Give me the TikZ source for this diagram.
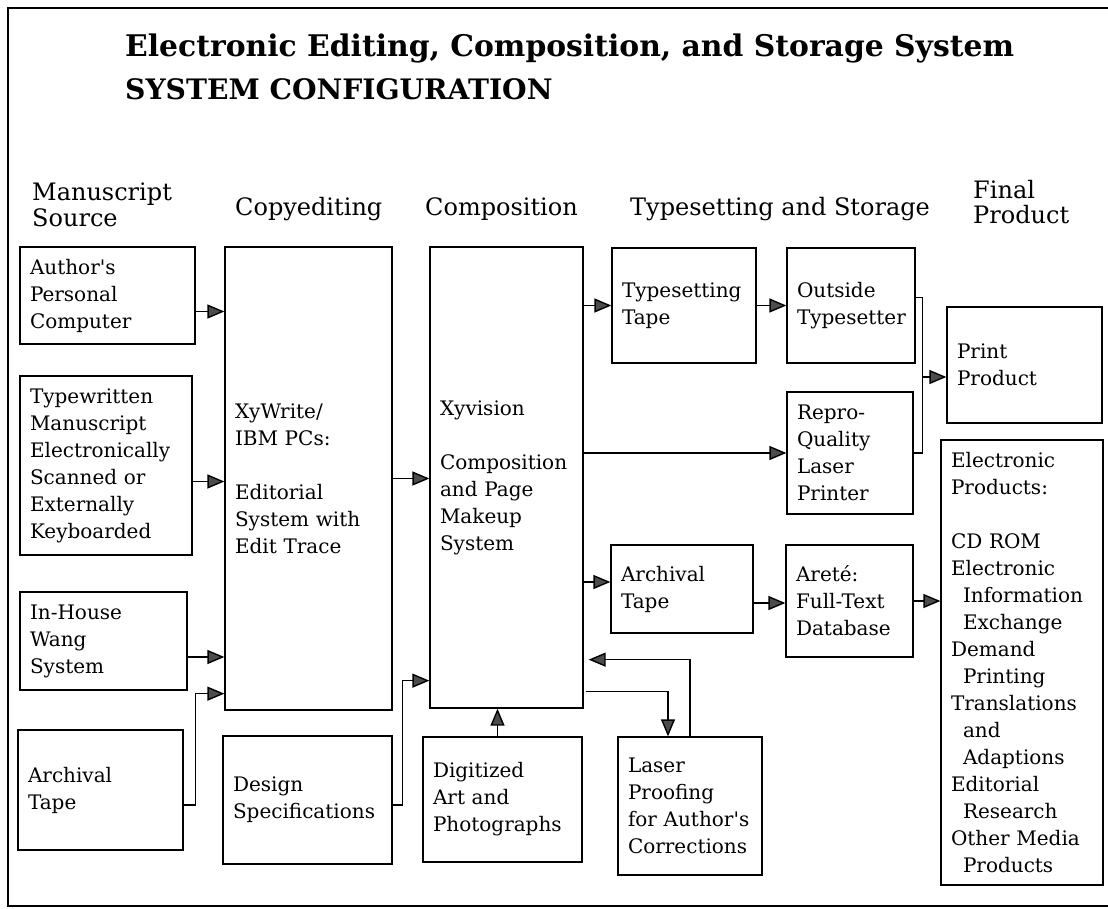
\documentclass[tikz,border=0pt]{standalone}
\usepackage{fontspec}
\setmainfont{DejaVu Serif}[Ligatures=TeXOff]
\usetikzlibrary{arrows.meta,calc}
\hyphenpenalty=10000
\exhyphenpenalty=10000
\newcommand\mybox[7][]{%
  \pgfmathsetmacro\myh{#6-#4}%
  \pgfmathsetmacro\mytw{#5-#3-20}%
  \node[box, #1, minimum height=\myh pt, text width=\mytw pt] (#2) at ({(#3+#5)/2},{(#4+#6)/2}) {#7};}
\begin{document}
\begin{tikzpicture}[x=1pt,y=-1pt,
  box/.style={draw, line width=1.3pt, inner xsep=10pt, inner ysep=0pt, align=left,
    font=\fontsize{20}{27}\selectfont},
  head/.style={anchor=base west, inner sep=0pt, font=\fontsize{24}{26}\selectfont},
  ttl/.style={anchor=base west, inner sep=0pt},
  conn/.style={line width=1.4pt},
  arr/.style={conn, -{Triangle[length=17pt,width=14pt,fill=black!70]}}]
\useasboundingbox (0,0) rectangle (1108,908);
\fill[white] (0,0) rectangle (1108,908);
% outer frame
\draw[line width=2.8pt] (1108,8) -- (8,8) -- (8,906) -- (1108,906);
% titles
\node[ttl, font=\fontsize{29.8}{32}\selectfont\bfseries] (t1) at (125,56) {Electronic Editing, Composition, and Storage System};
\node[ttl, font=\fontsize{28.2}{32}\selectfont\bfseries] (t2) at (125,99) {SYSTEM CONFIGURATION};
% column headings
\node[head] (h1a) at (32,200) {Manuscript};
\node[head] (h1b) at (32,226) {Source};
\node[head] (h2) at (235,215) {Copyediting};
\node[head] (h3) at (425,215) {Composition};
\node[head] (h4) at (630,215) {Typesetting and Storage};
\node[head] (h5a) at (973,198) {Final};
\node[head] (h5b) at (973,223) {Product};
% boxes
\mybox{auth}{20}{247}{195}{344}{Author's\\Personal\\Computer}
\mybox{tw}{20}{376}{192}{555}{Typewritten\\Manuscript\\Electronically\\Scanned or\\Externally\\Keyboarded}
\mybox{wang}{20}{592}{187}{690}{In-House\\Wang\\System}
\mybox{arl}{18}{730}{183}{850}{Archival\\Tape}
\mybox{xy}{225}{247}{392}{710}{XyWrite/\\IBM PCs:\\\mbox{}\\Editorial\\System with\\Edit Trace}
\mybox{ds}{223}{736}{392}{864}{Design\\Specifications}
\mybox{xv}{430}{247}{583}{708}{Xyvision\\\mbox{}\\Composition\\and Page\\Makeup\\System}
\mybox{dg}{423}{737}{582}{862}{Digitized\\Art and\\Photographs}
\mybox{lp}{618}{737}{762}{875}{Laser\\Proofing\\for Author's\\Corrections}
\mybox{tt}{612}{248}{756}{363}{Typesetting\\Tape}
\mybox{ot}{787}{248}{915}{363}{Outside\\Typesetter}
\mybox{rp}{787}{392}{913}{514}{Repro-\\Quality\\Laser\\Printer}
\mybox{atm}{611}{545}{753}{633}{Archival\\Tape}
\mybox{ar}{786}{545}{913}{657}{Areté:\\Full-Text\\Database}
\mybox{pp}{947}{307}{1102}{423}{Print\\Product}
\mybox{ep}{941}{440}{1103}{885}{Electronic\\Products:\\\mbox{}\\CD ROM\\Electronic\\\hspace*{12pt}Information\\\hspace*{12pt}Exchange\\Demand\\\hspace*{12pt}Printing\\Translations\\\hspace*{12pt}and\\\hspace*{12pt}Adaptions\\Editorial\\\hspace*{12pt}Research\\Other Media\\\hspace*{12pt}Products}
% connectors
\draw[arr] ([yshift=-16pt]auth.east) -- ([yshift=-16pt]auth.east -| xy.west);
\draw[arr] ([yshift=-16pt]tw.east) -- ([yshift=-16pt]tw.east -| xy.west);
\draw[arr] ([yshift=-16pt]wang.east) -- ([yshift=-16pt]wang.east -| xy.west);
\draw[arr] ([yshift=-15pt]arl.east) -- ++(12,0) |- ([yshift=17pt]xy.south west);
\draw[arr] (xy.east) -- (xy.east -| xv.west);
\draw[arr] ([yshift=-5pt]ds.east) -- ++(10,0) |- ([yshift=28pt]xv.south west);
\draw[arr] (xv.east |- tt.west) -- (tt.west);
\draw[arr] (tt.east) -- (ot.west);
\draw[arr] (xv.east |- rp.west) -- (rp.west);
\draw[arr] ([yshift=7pt]atm.west -| xv.east) -- ([yshift=7pt]atm.west);
\draw[arr] ([yshift=-14pt]atm.east) -- ([yshift=-14pt]atm.east -| ar.west);
\draw[arr] (ar.east) -- (ar.east -| ep.west);
\draw[arr] ([xshift=-5pt]dg.north) -- ([xshift=-5pt]dg.north |- xv.south);
\draw[arr] ([xshift=2pt,yshift=17pt]xv.south east) -| ([xshift=-22pt]lp.north);
\draw[arr, shorten >=5pt] (lp.north) |- ([yshift=49pt]xv.south east);
\draw[conn] ([yshift=8pt]ot.east) -- ++(7,0) coordinate (bk) |- (rp.east);
\draw[arr] ([yshift=-12pt]pp.west -| bk) -- ([yshift=-12pt]pp.west);
\end{tikzpicture}
\end{document}
